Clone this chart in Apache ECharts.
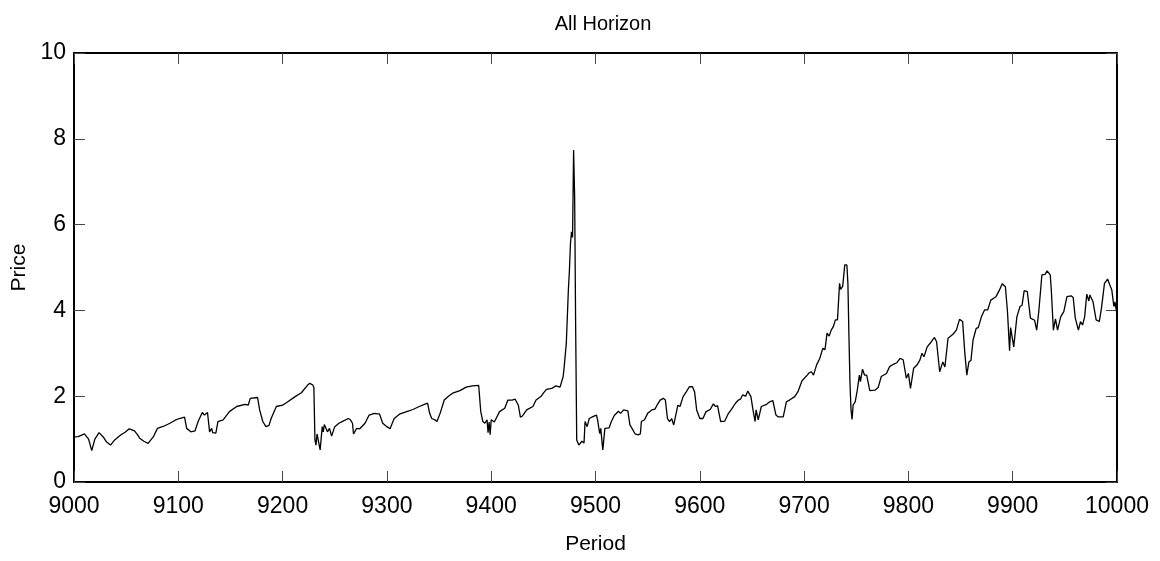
<!DOCTYPE html>
<html>
<head>
<meta charset="utf-8">
<title>All Horizon</title>
<script src="https://cdn.jsdelivr.net/npm/echarts@6/dist/echarts.min.js"></script>
<style>
  html, body { margin: 0; padding: 0; background: #fff; }
  #chart { width: 1160px; height: 561px; }
</style>
</head>
<body>
<div id="chart"></div>
<script>
// Price path over periods 9000-10000
const periods = [
  9000, 9004, 9010, 9014, 9017, 9020, 9024, 9028, 9031, 9035, 9039, 9045, 9049, 9053, 9058, 9061,
  9063, 9067, 9071, 9076, 9080, 9086, 9092, 9097, 9101, 9106, 9108, 9112, 9116, 9119, 9123, 9125,
  9128, 9130, 9132, 9133, 9136, 9138, 9143, 9149, 9156, 9164, 9167, 9169, 9176, 9178, 9181, 9184,
  9187, 9189, 9194, 9200, 9205, 9212, 9218, 9224, 9226, 9229, 9230, 9231, 9232, 9233, 9236, 9238,
  9239, 9240, 9243, 9245, 9247, 9250, 9254, 9258, 9263, 9265, 9267, 9268, 9271, 9274, 9279, 9283,
  9288, 9293, 9296, 9300, 9303, 9307, 9312, 9319, 9325, 9331, 9336, 9339, 9341, 9343, 9346, 9348,
  9351, 9355, 9359, 9363, 9370, 9376, 9382, 9388, 9390, 9392, 9394, 9396, 9397, 9398, 9399, 9400,
  9403, 9408, 9413, 9416, 9420, 9423, 9426, 9428, 9430, 9434, 9440, 9443, 9448, 9450, 9453, 9458,
  9462, 9466, 9469, 9470, 9472, 9473, 9474, 9475, 9476, 9477, 9478, 9479, 9480, 9481, 9482, 9484,
  9487, 9489, 9490, 9492, 9494, 9498, 9501, 9502, 9504, 9505, 9507, 9509, 9513, 9515, 9518, 9522,
  9524, 9527, 9531, 9533, 9535, 9538, 9541, 9543, 9544, 9547, 9550, 9554, 9557, 9559, 9562, 9565,
  9567, 9569, 9571, 9573, 9575, 9579, 9581, 9584, 9587, 9590, 9593, 9595, 9597, 9600, 9603, 9606,
  9610, 9613, 9615, 9617, 9620, 9624, 9627, 9630, 9634, 9637, 9639, 9641, 9644, 9646, 9649, 9651,
  9653, 9654, 9656, 9659, 9664, 9667, 9670, 9673, 9675, 9680, 9683, 9686, 9691, 9694, 9698, 9703,
  9705, 9707, 9709, 9712, 9715, 9718, 9720, 9722, 9724, 9726, 9728, 9730, 9732, 9734, 9735, 9737,
  9739, 9741, 9742, 9743, 9744, 9745, 9746, 9747, 9749, 9751, 9753, 9754, 9756, 9758, 9760, 9763,
  9768, 9771, 9774, 9779, 9782, 9786, 9789, 9792, 9795, 9798, 9800, 9802, 9805, 9808, 9811, 9813,
  9815, 9818, 9822, 9825, 9827, 9830, 9833, 9835, 9838, 9843, 9846, 9849, 9852, 9854, 9856, 9858,
  9860, 9862, 9865, 9867, 9870, 9873, 9876, 9879, 9884, 9887, 9890, 9893, 9895, 9897, 9898, 9901,
  9904, 9907, 9909, 9911, 9914, 9917, 9921, 9923, 9925, 9928, 9931, 9933, 9936, 9937, 9939, 9941,
  9943, 9946, 9949, 9952, 9956, 9958, 9960, 9963, 9965, 9967, 9969, 9971, 9973, 9974, 9977, 9980,
  9983, 9985, 9988, 9991, 9993, 9995, 9997, 9998, 10000
];

const prices = [
  1.05, 1.06, 1.12, 1.00, 0.73, 1.00, 1.15, 1.05, 0.94, 0.86, 0.98, 1.10, 1.16, 1.24, 1.19, 1.10,
  1.02, 0.95, 0.90, 1.05, 1.25, 1.30, 1.37, 1.44, 1.48, 1.51, 1.25, 1.17, 1.19, 1.41, 1.62, 1.56,
  1.62, 1.17, 1.25, 1.15, 1.14, 1.41, 1.45, 1.64, 1.76, 1.81, 1.79, 1.95, 1.97, 1.68, 1.41, 1.29,
  1.32, 1.48, 1.76, 1.79, 1.87, 1.99, 2.08, 2.26, 2.30, 2.26, 2.20, 0.98, 0.86, 1.12, 0.75, 1.29,
  1.17, 1.34, 1.17, 1.25, 1.07, 1.29, 1.37, 1.42, 1.48, 1.45, 1.37, 1.12, 1.25, 1.24, 1.37, 1.56,
  1.60, 1.58, 1.37, 1.29, 1.24, 1.48, 1.58, 1.64, 1.69, 1.76, 1.81, 1.84, 1.60, 1.48, 1.45, 1.41,
  1.60, 1.91, 2.00, 2.07, 2.13, 2.21, 2.24, 2.25, 1.64, 1.41, 1.37, 1.45, 1.15, 1.40, 1.10, 1.45,
  1.40, 1.64, 1.72, 1.91, 1.91, 1.93, 1.79, 1.51, 1.54, 1.68, 1.76, 1.91, 2.00, 2.07, 2.16, 2.18,
  2.24, 2.21, 2.46, 2.69, 3.23, 3.85, 4.48, 4.94, 5.56, 5.83, 5.70, 7.74, 6.65, 3.54, 0.98, 0.86,
  0.95, 0.91, 1.41, 1.29, 1.48, 1.53, 1.56, 1.45, 1.13, 1.25, 0.75, 1.25, 1.26, 1.40, 1.55, 1.65,
  1.60, 1.68, 1.66, 1.33, 1.25, 1.12, 1.10, 1.12, 1.41, 1.45, 1.60, 1.68, 1.70, 1.79, 1.91, 1.95,
  1.91, 1.48, 1.41, 1.48, 1.33, 1.79, 1.76, 1.99, 2.10, 2.22, 2.22, 2.10, 1.68, 1.48, 1.48, 1.64,
  1.69, 1.82, 1.76, 1.78, 1.41, 1.42, 1.58, 1.68, 1.83, 1.91, 1.93, 2.03, 2.00, 2.12, 1.99, 1.68,
  1.41, 1.68, 1.45, 1.76, 1.81, 1.87, 1.90, 1.56, 1.52, 1.52, 1.87, 1.91, 1.99, 2.10, 2.36, 2.49,
  2.55, 2.57, 2.49, 2.73, 2.88, 3.12, 3.08, 3.47, 3.40, 3.54, 3.62, 3.78, 3.78, 4.63, 4.49, 4.56,
  5.06, 5.06, 4.63, 3.40, 2.30, 1.68, 1.46, 1.79, 1.87, 2.14, 2.49, 2.34, 2.63, 2.49, 2.49, 2.13,
  2.14, 2.20, 2.46, 2.53, 2.69, 2.75, 2.78, 2.88, 2.85, 2.42, 2.53, 2.18, 2.65, 2.72, 2.84, 3.00,
  2.92, 3.15, 3.27, 3.37, 3.27, 2.57, 2.80, 2.68, 3.35, 3.45, 3.54, 3.79, 3.74, 3.04, 2.49, 2.80,
  2.84, 3.31, 3.58, 3.60, 3.85, 4.01, 4.01, 4.24, 4.32, 4.46, 4.62, 4.55, 3.97, 3.06, 3.60, 3.15,
  3.85, 4.09, 4.12, 4.46, 4.44, 3.82, 3.77, 3.54, 3.97, 4.83, 4.84, 4.92, 4.83, 4.48, 3.54, 3.80,
  3.54, 3.85, 3.97, 4.32, 4.34, 4.30, 3.82, 3.54, 3.74, 3.66, 3.85, 4.38, 4.22, 4.36, 4.20, 3.78,
  3.74, 4.03, 4.63, 4.73, 4.60, 4.48, 4.09, 4.20, 3.90
];

const xTicks = { min: 9000, max: 10000, step: 100 };
const yTicks = { min: 0, max: 10, step: 2 };

const FONT = '"Liberation Sans", Arial, sans-serif';
const chart = echarts.init(document.getElementById('chart'), null, { renderer: 'canvas' });

const lineData = periods.map((p, i) => [p, prices[i]]);

const boxLine = { show: true, onZero: false, lineStyle: { color: '#000', width: 2 } };
const inTicks = { show: true, inside: true, length: 11, lineStyle: { color: '#444', width: 1 } };

chart.setOption({
  animation: false,
  backgroundColor: '#fff',
  title: {
    text: 'All Horizon',
    left: 598,
    top: 9,
    textAlign: 'center',
    textStyle: { fontFamily: FONT, fontSize: 20, fontWeight: 'normal', color: '#000' }
  },
  grid: { left: 74, right: 43, top: 53, bottom: 79, containLabel: false },
  xAxis: [
    {
      type: 'value', position: 'bottom',
      min: xTicks.min, max: xTicks.max, interval: xTicks.step,
      name: 'Period', nameLocation: 'middle', nameGap: 52,
      nameTextStyle: { fontFamily: FONT, fontSize: 21, color: '#000' },
      axisLine: boxLine, axisTick: inTicks,
      axisLabel: {
        fontFamily: FONT, fontSize: 23, color: '#000', margin: 13,
        formatter: (v) => String(v)
      },
      splitLine: { show: false }
    },
    {
      type: 'value', position: 'top',
      min: xTicks.min, max: xTicks.max, interval: xTicks.step,
      axisLine: boxLine, axisTick: inTicks,
      axisLabel: { show: false }, splitLine: { show: false }
    }
  ],
  yAxis: [
    {
      type: 'value', position: 'left',
      min: yTicks.min, max: yTicks.max, interval: yTicks.step,
      name: 'Price', nameLocation: 'middle', nameGap: 40, nameRotate: 90,
      nameTextStyle: { fontFamily: FONT, fontSize: 21, color: '#000' },
      axisLine: boxLine, axisTick: inTicks,
      axisLabel: { fontFamily: FONT, fontSize: 23, color: '#000', margin: 8 },
      splitLine: { show: false }
    },
    {
      type: 'value', position: 'right',
      min: yTicks.min, max: yTicks.max, interval: yTicks.step,
      axisLine: boxLine, axisTick: inTicks,
      axisLabel: { show: false }, splitLine: { show: false }
    }
  ],
  series: [
    {
      type: 'line',
      data: lineData,
      xAxisIndex: 0, yAxisIndex: 0,
      showSymbol: false,
      symbol: 'none',
      smooth: false,
      lineStyle: { color: '#000', width: 1.3 }
    }
  ]
});
</script>
</body>
</html>
